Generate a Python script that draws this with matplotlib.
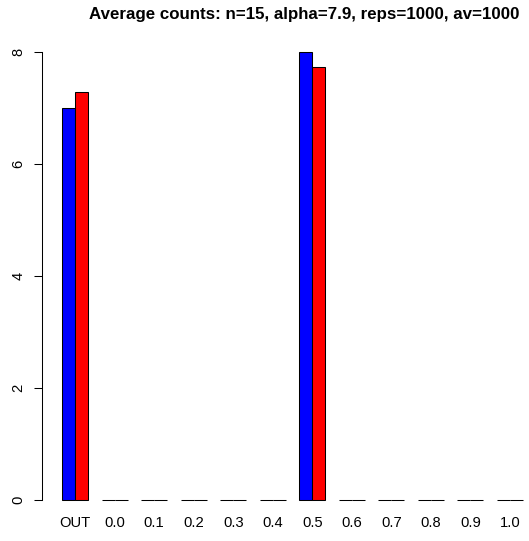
import matplotlib
matplotlib.use("Agg")
import matplotlib.pyplot as plt
import numpy as np

categories = ["OUT", "0.0", "0.1", "0.2", "0.3", "0.4", "0.5", "0.6", "0.7", "0.8", "0.9", "1.0"]
series_blue = [7.0, 0, 0, 0, 0, 0, 8.0, 0, 0, 0, 0, 0]
series_red = [7.28, 0, 0, 0, 0, 0, 7.73, 0, 0, 0, 0, 0]
yticks = [0, 2, 4, 6, 8]
title = "Average counts: n=15, alpha=7.9, reps=1000, av=1000"

W, H = 529, 541
fig = plt.figure(figsize=(W / 100, H / 100), dpi=100)
plt.rcParams['font.family'] = ['Liberation Sans', 'DejaVu Sans']

# axes in pixel geometry
left_px, right_px, top_px, bot_px = 42, 529, 30, 541
ax = fig.add_axes([left_px / W, (H - bot_px) / H, (right_px - left_px) / W, (bot_px - top_px) / H])

pxu_x = 13.17  # pixels per x unit
pxu_y = 56.0   # pixels per y unit
x0_unit = 1 - (62 - left_px) / pxu_x
x1_unit = 1 + (right_px - 62) / pxu_x
ax.set_xlim(x0_unit, x1_unit)
y0 = -(bot_px - 500) / pxu_y
y1 = 8 + (52 - top_px) / pxu_y
ax.set_ylim(y0, y1)

n = len(categories)
group_left = np.arange(n) * 3 + 1  # R barplot beside=TRUE, space=c(0,1)
ax.bar(group_left, series_blue, width=1, align='edge', color='#0000FF',
       edgecolor='black', linewidth=0.75)
ax.bar(group_left + 1, series_red, width=1, align='edge', color='#FF0000',
       edgecolor='black', linewidth=0.75)

for s in ['top', 'right', 'bottom']:
    ax.spines[s].set_visible(False)
ax.spines['left'].set_bounds(0, 8)
ax.spines['left'].set_linewidth(0.75)
ax.set_yticks(yticks)
ax.set_yticklabels([str(v) for v in yticks], rotation=90, va='center', fontsize=10.6)
ax.tick_params(axis='y', length=5.8, width=0.75, pad=6)
ax.set_xticks([])

label_y = -(523 - 500) / pxu_y
for i, c in enumerate(categories):
    ax.text(group_left[i] + 1, label_y, c, ha='center', va='center', fontsize=10.6)

fig.text(304 / W, 1 - 15 / H, title, ha='center', va='center', fontsize=12.2, fontweight='bold')

fig.savefig("out.png", dpi=100)
